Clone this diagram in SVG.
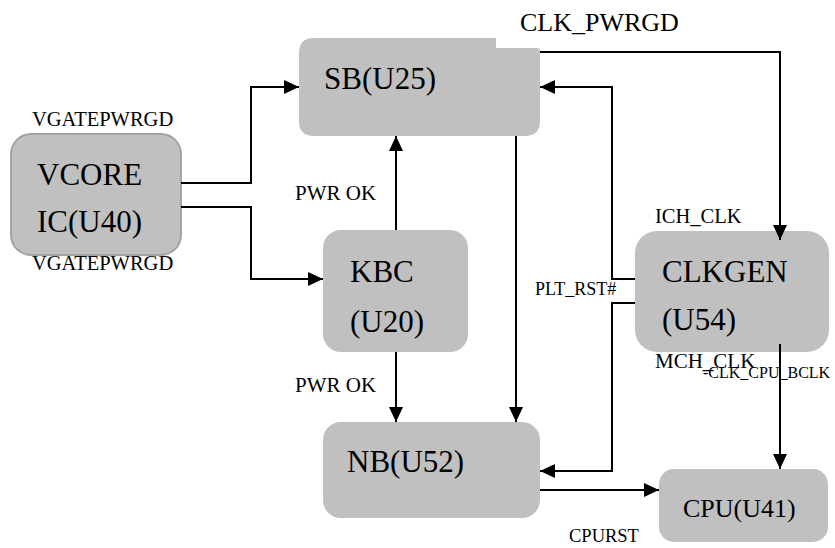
<svg xmlns="http://www.w3.org/2000/svg" width="835" height="548" viewBox="0 0 835 548">
  <style>
    .box { fill: #c0c0c0; }
    text { font-family: 'Liberation Serif', 'Times New Roman', Tinos, 'DejaVu Serif', serif; fill: #000; }
    .big { font-size: 31px; }
    .lbl { font-size: 20.5px; }
    .wire { fill: none; stroke: #000; stroke-width: 2; marker-end: url(#head); }
  </style>
  <defs>
    <marker id="head" markerUnits="userSpaceOnUse" markerWidth="16" markerHeight="16" refX="15" refY="8" orient="auto">
      <path d="M0,1 L15,8 L0,15 Z" fill="#000"/>
    </marker>
  </defs>
  <rect width="835" height="548" fill="#fff"/>

  <g id="vcore">
    <rect class="box" x="11" y="134" width="170" height="121" rx="20" stroke="#a3a3a3" stroke-width="2"/>
    <text class="big" x="37" y="185">VCORE</text>
    <text class="big" x="37" y="232">IC(U40)</text>
    <text class="lbl" x="32" y="126">VGATEPWRGD</text>
    <text class="lbl" x="32" y="270">VGATEPWRGD</text>
  </g>

  <g id="sb">
    <path class="box" d="M314,38 H496 V48 H537 Q540,48 540,51 V121 Q540,136 525,136 H314 Q299,136 299,121 V53 Q299,38 314,38 Z"/>
    <text class="big" x="324" y="89">SB(U25)</text>
  </g>

  <g id="kbc">
    <rect class="box" x="323" y="230" width="145" height="122" rx="18"/>
    <text class="big" x="350" y="282">KBC</text>
    <text class="big" x="350" y="332">(U20)</text>
  </g>

  <g id="nb">
    <rect class="box" x="323" y="422" width="217" height="96" rx="18"/>
    <text class="big" x="347" y="472">NB(U52)</text>
  </g>

  <g id="clkgen">
    <rect class="box" x="635" y="231" width="194" height="121" rx="22"/>
    <text class="big" x="662" y="282">CLKGEN</text>
    <text class="big" x="662" y="330">(U54)</text>
  </g>

  <g id="cpu">
    <rect class="box" x="659" y="469" width="169" height="73" rx="15"/>
    <text font-size="26" x="683" y="517">CPU(U41)</text>
  </g>

  <g id="connectors">
    <path class="wire" d="M181,183 H251 V87 H299"/>
    <path class="wire" d="M181,207 H251 V279 H323"/>
    <path class="wire" d="M396,230 V136"/>
    <path class="wire" d="M396,352 V422"/>
    <path class="wire" d="M516,136 V422"/>
    <path class="wire" d="M540,52 H780 V240"/>
    <path class="wire" d="M635,279 H612 V87 H540"/>
    <path class="wire" d="M635,303 H612 V471 H540"/>
    <path class="wire" d="M780,344 V469"/>
    <path class="wire" d="M540,490 H659"/>
  </g>

  <g id="labels">
    <text font-size="26" x="520" y="31">CLK_PWRGD</text>
    <text font-size="21" x="295" y="200">PWR OK</text>
    <text font-size="21" x="295" y="392">PWR OK</text>
    <text class="lbl" x="655" y="223">ICH_CLK</text>
    <text font-size="18" x="535" y="295">PLT_RST#</text>
    <text font-size="21" x="655" y="368">MCH_CLK</text>
    <text font-size="16" x="703" y="378">-CLK_CPU_BCLK</text>
    <text font-size="18.5" x="569" y="542">CPURST</text>
  </g>
</svg>
